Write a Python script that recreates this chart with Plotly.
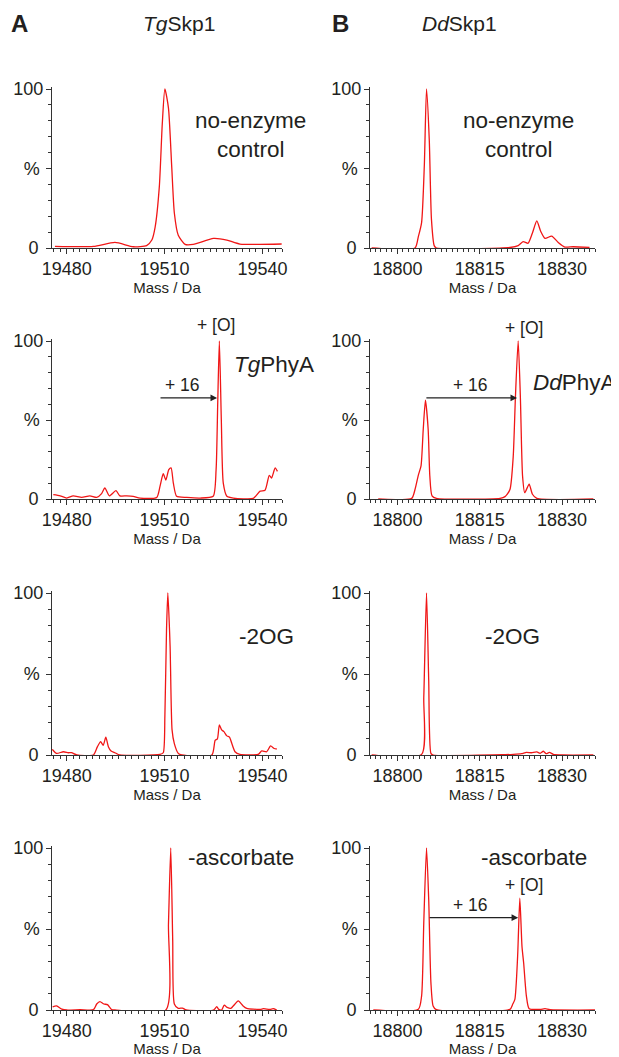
import plotly.graph_objects as go

# ---------------- data ----------------
tg_ctrl_x = [19476.4, 19488.2, 19494.8, 19500.4, 19504.5, 19506.1, 19507.1, 19508.4, 19509.3, 19510.1,
             19511.2, 19512.2, 19513.0, 19514.2, 19516.3, 19518.8, 19525.0, 19529.1, 19533.1, 19545.9]
tg_ctrl_y = [1.0, 1.0, 3.5, 0.8, 1.5, 5.0, 13.0, 38.6, 78.0, 100.0,
             88.0, 51.0, 22.0, 8.0, 2.3, 2.3, 6.0, 5.0, 2.5, 2.5]

dd_ctrl_x = [18795.3, 18803.2, 18803.8, 18804.4, 18804.9, 18805.3, 18805.8, 18806.2, 18806.7, 18807.1,
             18820.5, 18822.0, 18822.9, 18823.8, 18824.6, 18825.4, 18826.1, 18826.9, 18828.1, 18829.3,
             18830.5, 18832.0, 18835.0]
dd_ctrl_y = [0.0, 0.0, 7.0, 16.0, 52.0, 100.0, 68.0, 18.0, 1.5, 0.0,
             0.3, 1.5, 4.0, 3.0, 9.5, 17.0, 10.5, 6.0, 7.5, 3.5,
             0.6, 0.8, 0.4]

tg_phya_x = [19475.9, 19478.0, 19480.0, 19482.0, 19484.6, 19487.1, 19489.2, 19490.7, 19491.7, 19493.1,
             19495.1, 19496.3, 19498.4, 19500.4, 19502.5, 19507.6, 19508.6, 19509.6, 19510.4, 19511.3,
             19512.0, 19512.7, 19513.7, 19516.8, 19520.9, 19524.9, 19525.8, 19526.3, 19526.8, 19527.4,
             19528.0, 19529.1, 19531.1, 19537.2, 19539.3, 19540.8, 19542.1, 19542.8, 19543.9, 19544.6]
tg_phya_y = [2.7, 2.0, 0.6, 2.0, 1.0, 2.0, 1.0, 3.4, 7.0, 2.0,
             5.3, 2.0, 2.0, 1.7, 0.6, 1.0, 8.0, 16.0, 12.0, 18.6,
             19.7, 10.0, 1.7, 1.0, 0.6, 1.7, 18.6, 61.0, 100.0, 50.0,
             10.0, 1.7, 0.6, 0.4, 5.0, 5.5, 15.0, 13.3, 19.7, 17.5]

dd_phya_x = [18796.5, 18802.6, 18803.2, 18803.8, 18804.3, 18804.7, 18805.1, 18805.6, 18805.9, 18806.3,
             18807.1, 18818.7, 18819.6, 18820.5, 18821.1, 18821.5, 18822.0, 18822.4, 18822.8, 18823.2,
             18824.0, 18824.6, 18825.4, 18835.7]
dd_phya_y = [0.0, 0.4, 6.0, 15.0, 21.0, 44.0, 62.5, 44.0, 14.6, 2.0,
             0.4, 0.4, 1.5, 6.0, 27.0, 64.6, 100.0, 64.6, 14.6, 4.0,
             9.4, 3.0, 0.4, 0.0]

tg_2og_x = [19475.6, 19476.9, 19479.0, 19480.5, 19481.5, 19483.1, 19488.2, 19489.4, 19490.4, 19491.2,
            19492.0, 19492.8, 19493.6, 19494.8, 19496.3, 19508.6, 19509.6, 19510.1, 19510.6, 19511.0,
            19511.7, 19512.3, 19513.0, 19514.2, 19515.3, 19524.5, 19525.5, 19526.2, 19526.8, 19527.5,
            19528.2, 19529.1, 19529.9, 19530.6, 19531.6, 19533.1, 19538.7, 19539.8, 19541.3, 19542.5,
            19543.6, 19544.4]
tg_2og_y = [3.5, 1.0, 2.0, 1.4, 1.4, 0.0, 0.0, 5.0, 8.2, 6.0,
            11.0, 5.0, 2.5, 1.4, 0.0, 0.4, 1.4, 24.0, 77.0, 100.0,
            67.0, 15.5, 7.0, 1.0, 0.0, 0.0, 9.0, 10.0, 18.6, 15.5,
            14.4, 11.8, 11.0, 7.2, 2.0, 0.4, 0.4, 2.5, 2.0, 5.6,
            4.0, 3.7]

dd_2og_x = [18795.3, 18804.4, 18804.8, 18805.3, 18805.7, 18806.1, 18806.5, 18819.6, 18821.1, 18822.6,
            18823.5, 18824.4, 18825.4, 18826.0, 18826.6, 18827.1, 18827.7, 18828.4, 18830.2, 18835.7]
dd_2og_y = [0.0, 0.4, 35.5, 100.0, 46.0, 1.0, 0.0, 0.2, 0.4, 0.8,
            1.6, 1.4, 1.9, 1.0, 2.3, 0.8, 1.6, 0.4, 0.0, 0.0]

tg_asc_x = [19475.7, 19476.9, 19478.5, 19480.0, 19484.1, 19488.2, 19489.2, 19490.2, 19491.4, 19492.5,
            19493.8, 19494.8, 19510.4, 19511.2, 19511.9, 19512.5, 19513.0, 19514.2, 19515.5, 19516.6,
            19525.0, 19526.0, 19526.6, 19527.5, 19528.3, 19529.2, 19530.3, 19531.6, 19532.6, 19534.0,
            19535.2, 19539.3, 19540.3, 19542.3, 19543.3, 19544.4]
tg_asc_y = [2.0, 2.5, 0.6, 0.0, 0.2, 0.2, 3.7, 5.2, 3.7, 3.3,
            0.2, 0.0, 0.0, 53.0, 100.0, 43.0, 3.7, 1.0, 1.2, 0.0,
            0.0, 2.0, 0.4, 0.0, 3.0, 1.6, 1.0, 3.7, 5.6, 2.7,
            1.0, 0.4, 0.8, 0.4, 0.8, 0.0]

dd_asc_x = [18795.6, 18803.8, 18804.4, 18804.8, 18805.3, 18805.7, 18806.1, 18806.5, 18807.1, 18820.5,
            18821.0, 18821.4, 18821.9, 18822.3, 18822.7, 18823.0, 18823.5, 18824.0, 18826.0, 18826.9,
            18827.8, 18836.0]
dd_asc_y = [0.0, 0.4, 8.6, 54.0, 100.0, 68.0, 17.0, 2.5, 0.2, 0.4,
            3.5, 6.6, 33.0, 69.0, 39.0, 29.0, 8.6, 0.8, 0.4, 0.8,
            0.2, 0.0]

tg_ticks = [19480, 19510, 19540]
dd_ticks = [18800, 18815, 18830]
y_ticks = [0, 50, 100]
y_ticktext = ["0\u00a0", "%\u2009", "100"]
col_titles = ["<i>Tg</i>Skp1", "<i>Dd</i>Skp1"]
panel_letters = ["A", "B"]
conditions = ["no-enzyme<br>control", "no-enzyme<br>control",
              "<i>Tg</i>PhyA", "<i>Dd</i>PhyA",
              "-2OG", "-2OG",
              "-ascorbate", "-ascorbate"]
x_title = "Mass / Da"

series = [(tg_ctrl_x, tg_ctrl_y), (dd_ctrl_x, dd_ctrl_y),
          (tg_phya_x, tg_phya_y), (dd_phya_x, dd_phya_y),
          (tg_2og_x, tg_2og_y), (dd_2og_x, dd_2og_y),
          (tg_asc_x, tg_asc_y), (dd_asc_x, dd_asc_y)]

# ---------------- layout geometry ----------------
OFF = 8                      # default page body margin of the html page
W, H = 619 - OFF, 1057 - OFF
FONT = "Liberation Sans, Arial, sans-serif"
TXT = "#231f20"
RED = "rgb(240,22,22)"
col_px = [(52, 282), (370, 595)]                         # screen pixels
row_px = [(89, 248), (341, 499), (593, 755), (848, 1010)]
x_ranges = [[19475.5, 19546.0], [18795.0, 18836.0]]
YTOP = 101.0


def px_x(p):
    return (p - OFF) / W


def px_y(p):
    return 1 - (p - OFF) / H


fig = go.Figure()
layout = dict(
    template="none",
    width=W, height=H, margin=dict(l=0, r=0, t=0, b=0, autoexpand=False),
    paper_bgcolor="white", plot_bgcolor="white", showlegend=False,
    font=dict(family=FONT, color=TXT, size=18),
)

for i, (xs, ys) in enumerate(series):
    r, c = divmod(i, 2)
    k = i + 1
    xa = "x" if k == 1 else f"x{k}"
    ya = "y" if k == 1 else f"y{k}"
    fig.add_trace(go.Scatter(x=xs, y=ys, mode="lines", xaxis=xa, yaxis=ya,
                             line=dict(color=RED, width=1.3, shape="spline", smoothing=0.6),
                             hoverinfo="skip"))
    x0p, x1p = col_px[c]
    y100, y0 = row_px[r]
    ytop_px = y100 - (YTOP - 100) / 100 * (y0 - y100)
    ticks = tg_ticks if c == 0 else dd_ticks
    layout[f"xaxis{k}"] = dict(
        domain=[px_x(x0p), px_x(x1p)], anchor=ya, range=x_ranges[c], automargin=False,
        tickmode="array", tickvals=ticks, ticktext=[str(t) for t in ticks],
        ticks="outside", ticklen=5, tickwidth=1,
        tickcolor="#333", showline=True, linecolor="#333", linewidth=1,
        showgrid=False, zeroline=False, layer="below traces",
        tickfont=dict(size=18, family=FONT, color=TXT), ticklabelstandoff=-1,
        minor=dict(tick0=ticks[0], dtick=2 if c == 0 else 1, ticks="outside",
                   ticklen=3, tickcolor="#333", showgrid=False),
        title=dict(text=x_title, font=dict(size=15, family=FONT, color=TXT), standoff=0),
    )
    layout[f"yaxis{k}"] = dict(
        domain=[px_y(y0), px_y(ytop_px)], anchor=xa, range=[0, YTOP], automargin=False,
        tickmode="array", tickvals=y_ticks, ticktext=y_ticktext, ticks="outside",
        ticklen=5, tickwidth=1, tickcolor="#333", showline=True, linecolor="#333",
        linewidth=1, showgrid=False, zeroline=False, ticklabelstandoff=-1,
        tickfont=dict(size=18, family=FONT, color=TXT),
        minor=dict(tick0=0, dtick=10, ticks="outside", ticklen=3, tickcolor="#333",
                   showgrid=False),
    )

ann = []
# column headers
for c, (lx, tx) in enumerate([(19, 179), (340, 460)]):
    ann.append(dict(xref="paper", yref="paper", x=px_x(lx), y=px_y(23), text=f"<b>{panel_letters[c]}</b>",
                    xanchor="center", yanchor="middle", showarrow=False,
                    font=dict(size=24, family=FONT, color=TXT)))
    ann.append(dict(xref="paper", yref="paper", x=px_x(tx), y=px_y(23), text=col_titles[c],
                    xanchor="center", yanchor="middle", showarrow=False,
                    font=dict(size=21, family=FONT, color=TXT)))

# condition labels (data coordinates of each panel)
cond_pos = [(19536.2, 71), (18822.1, 71), (19543.6, 85), (18832.3, 74),
            (19541.4, 73), (18820.9, 73), (19533.4, 94.4), (18824.9, 94.4)]
for i, (txt, (px_, py_)) in enumerate(zip(conditions, cond_pos)):
    k = i + 1
    ann.append(dict(xref="x" if k == 1 else f"x{k}", yref="y" if k == 1 else f"y{k}",
                    x=px_, y=py_, text=txt, showarrow=False, xanchor="center", yanchor="middle",
                    font=dict(size=22.5, family=FONT, color=TXT)))

# mass-shift labels and arrows:
# (panel, +16 x, +16 y, [O] x, [O] y (screen pixel row), arrow start, arrow end, arrow y)
shifts = [(3, 19515.4, 72, 19525.8, 325, 19508.3, 19526.1, 64),
          (4, 18813.4, 72, 18823.05, 328, 18805.0, 18821.8, 64),
          (8, 18813.4, 65, 18823.05, 885, 18805.6, 18822.0, 57)]
for k, lx, ly, ox, oy_px, a0, a1, ay in shifts:
    xr, yr = f"x{k}", f"y{k}"
    ann.append(dict(xref=xr, yref=yr, x=lx, y=ly, text="+ 16", showarrow=False,
                    xanchor="center", yanchor="middle",
                    font=dict(size=17.5, family=FONT, color=TXT)))
    ann.append(dict(xref=xr, yref="paper", x=ox, y=px_y(oy_px), text="+ [O]", showarrow=False,
                    xanchor="center", yanchor="middle",
                    font=dict(size=17.5, family=FONT, color=TXT)))
    ann.append(dict(xref=xr, yref=yr, x=a1, y=ay, ax=a0, ay=ay, axref=xr, ayref=yr,
                    text="", showarrow=True, arrowhead=2, arrowsize=1.1, arrowwidth=1.2,
                    arrowcolor="#222", standoff=0, startstandoff=0))

layout["annotations"] = ann
fig.update_layout(**layout)
fig.write_html("out.html")
